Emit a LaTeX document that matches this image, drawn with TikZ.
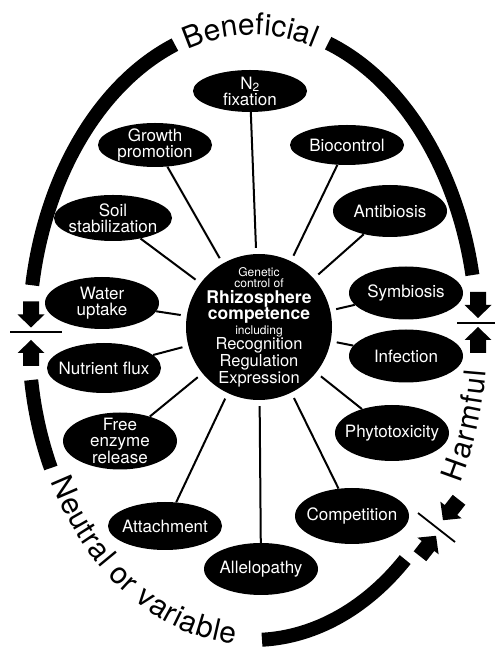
\documentclass[tikz,border=0pt]{standalone}
\usepackage{fontspec}
\setmainfont{TeX Gyre Heros}
\usetikzlibrary{shapes.geometric,decorations.text}
\tikzset{
  blob/.style={ellipse, fill=black, text=white, align=center, minimum width=114pt,
    minimum height=50pt, inner xsep=-8pt, inner ysep=-4pt, font=\fontsize{17}{16}\selectfont},
  hub/.style={circle, fill=black, text=white, minimum size=146pt, inner sep=-6pt,
    text width=106pt, align=center},
  spoke/.style={line width=2pt, shorten >=6pt},
  ring/.style={line width=14pt},
  tick/.style={line width=1.8pt},
  ringtext/.style={decorate, decoration={text along path, text align=fit to path,
    raise=#1, text={|\fontsize{30}{30}\selectfont|\ringlabel}}},
  blockarrow/.pic={\fill (-13pt,-8pt) -- (0pt,-8pt) -- (0pt,-13.5pt) -- (13pt,0pt)
    -- (0pt,13.5pt) -- (0pt,8pt) -- (-13pt,8pt) -- cycle;}
}
\begin{document}
\begin{tikzpicture}[x=1pt,y=1pt]
\useasboundingbox (0,0) rectangle (495,648);
% the broken oval round the whole scheme
\begin{scope}[shift={(253,310)}]
  \draw[ring] (11.6:224pt and 313pt) arc[start angle=11.6, end angle=70.4, x radius=224pt, y radius=313pt];
  \draw[ring] (110.4:224pt and 313pt) arc[start angle=110.4, end angle=170.3, x radius=224pt, y radius=313pt];
  \draw[ring] (188:224pt and 302pt) arc[start angle=188, end angle=205.5, x radius=224pt, y radius=302pt];
  \draw[ring] (-87.7:224pt and 302pt) arc[start angle=-87.7, end angle=-47.2, x radius=224pt, y radius=302pt];
  \def\ringlabel{Beneficial}
  \path[ringtext=-10pt] (107.9:224pt and 313pt) arc[start angle=107.9, end angle=73.2, x radius=224pt, y radius=313pt];
  \def\ringlabel{Harmful}
  \path[ringtext=-10pt] (-28:224pt and 302pt) arc[start angle=-28, end angle=-6, x radius=224pt, y radius=302pt];
  \def\ringlabel{Neutral or variable}
  \path[ringtext=-5pt] (208:224pt and 302pt) arc[start angle=208, end angle=265.5, x radius=224pt, y radius=302pt];
\end{scope}
% arrows at the three breaks
\pic[rotate=-90] at (31,333.5) {blockarrow}; \draw[tick] (10,316) -- (62,316); \pic[rotate=90] at (31,295) {blockarrow};
\pic[rotate=-90] at (478,343) {blockarrow}; \draw[tick] (457,325) -- (495,325); \pic[rotate=90] at (478,308) {blockarrow};
\pic[rotate=231.9] at (451,138) {blockarrow}; \draw[tick] (418,135) -- (455,106); \pic[rotate=51.9] at (428,102) {blockarrow};
% centre
\node[hub] (hub) at (259,321) {\fontsize{12}{11}\selectfont Genetic\\control of\par
  \fontsize{17.5}{16}\selectfont\bfseries Rhizosphere\\competence\par
  \fontsize{12}{15}\selectfont\mdseries including\par
  \fontsize{16.5}{14}\selectfont Recognition\\Regulation\\Expression\par};
% activities
\node[blob, minimum height=42pt] (nfix) at (250,557) {N\textsubscript{2}\\fixation};
\node[blob, minimum height=44pt] (growth) at (155,503) {Growth\\promotion};
\node[blob, minimum height=40pt] (bioctl) at (347,503) {Biocontrol};
\node[blob, minimum height=52pt] (antib) at (390,437) {Antibiosis};
\node[blob, minimum width=118pt, minimum height=46pt] (soil) at (113,430) {Soil\\stabilization};
\node[blob, minimum height=52pt] (water) at (102,345) {Water\\uptake};
\node[blob] (nutr) at (104,280) {Nutrient flux};
\node[blob, minimum height=57pt] (enzyme) at (120,207) {Free\\enzyme\\release};
\node[blob, minimum height=48pt] (attach) at (165,122) {Attachment};
\node[blob, minimum height=52pt] (allelo) at (261,79) {Allelopathy};
\node[blob, minimum height=56pt] (compet) at (352,132) {Competition};
\node[blob, minimum height=56pt] (phyto) at (392,215) {Phytotoxicity};
\node[blob, minimum height=53pt] (infect) at (406,292) {Infection};
\node[blob, minimum height=53pt] (symb) at (406,355) {Symbiosis};
\foreach \n in {nfix,growth,bioctl,antib,soil,water,nutr,enzyme,attach,allelo,compet,phyto,infect,symb}
  \draw[spoke] (\n) -- (hub);
\end{tikzpicture}
\end{document}
